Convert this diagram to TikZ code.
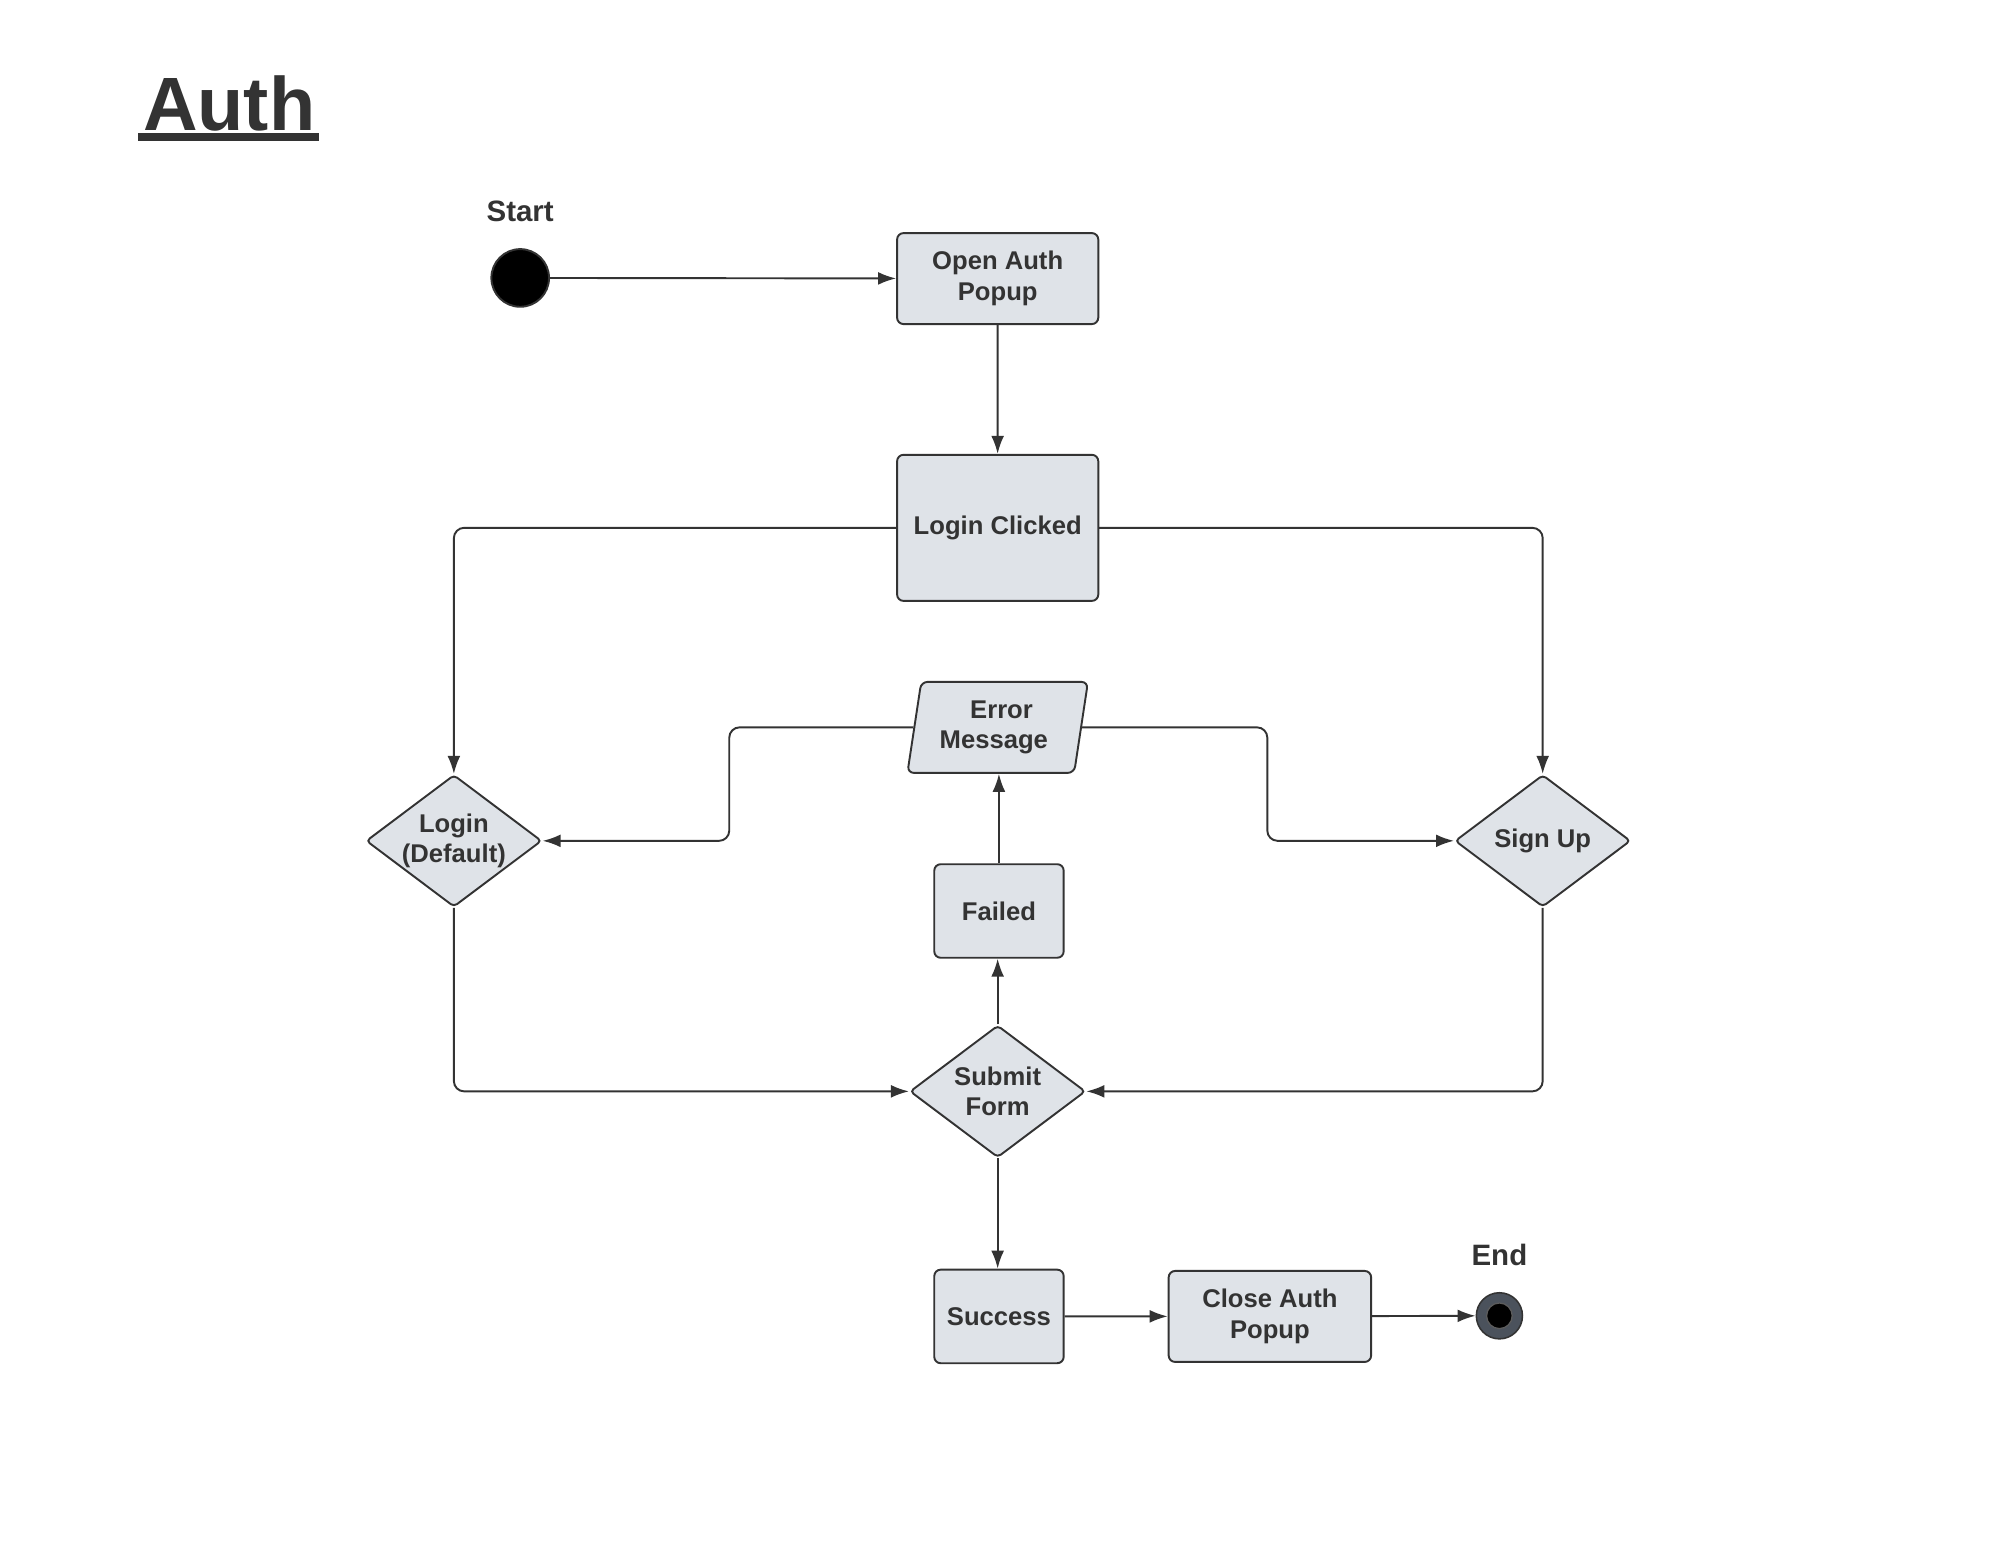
\documentclass[tikz,border=0pt]{standalone}
\usepackage{fontspec}
\setmainfont{Liberation Sans}
\usetikzlibrary{shapes.geometric,arrows.meta}
\definecolor{ink}{HTML}{333333}
\definecolor{boxfill}{HTML}{DFE3E8}
\definecolor{endgray}{HTML}{4B525C}
\begin{document}
\begin{tikzpicture}[x=1pt,y=-1pt,
  every node/.style={text=ink,font=\fontsize{20}{24}\selectfont\bfseries,align=center},
  box/.style={draw=ink,fill=boxfill,line width=1.5pt,rounded corners=5pt,inner sep=0pt},
  dia/.style={diamond,draw=ink,fill=boxfill,line width=1.5pt,rounded corners=3pt,inner sep=0pt,minimum width=137pt,minimum height=103pt},
  lbl/.style={font=\fontsize{23}{27}\selectfont\bfseries},
  conn/.style={draw=ink,line width=1.5pt,rounded corners=8pt,-{Latex[length=14pt,width=10pt]}},
]
\useasboundingbox[fill=white] (0,0) rectangle (1560,1206);

\begin{scope}[scale=0.995]
% title
\node[anchor=base west,inner sep=0pt,font=\fontsize{59}{70}\selectfont\bfseries] (title) at (112,102.5) {Auth};
\fill[ink] (108.5,104.5) rectangle (250,110.5);

% start / end
\node[lbl] (startlbl) at (408,166) {Start};
\node[circle,fill=black,draw=ink,line width=1.5pt,minimum size=45pt,inner sep=0pt] (start) at (408,218) {};
\node[lbl] (endlbl) at (1176,984) {End};
\node[circle,fill=endgray,draw=ink,line width=1.2pt,minimum size=36pt,inner sep=0pt] (end) at (1176,1032) {};
\node[circle,fill=black,draw=ink!80,line width=1pt,minimum size=20pt,inner sep=0pt] (endin) at (1176,1032) {};

% boxes
\node[box,minimum width=157pt,minimum height=71pt] (open) at (782.5,218.5) {Open Auth\\Popup};
\node[box,minimum width=157pt,minimum height=114pt] (login) at (782.5,414) {Login Clicked};
\node[trapezium,trapezium left angle=79,trapezium right angle=101,trapezium stretches=true,
      draw=ink,fill=boxfill,line width=1.5pt,rounded corners=5pt,inner sep=0pt,
      minimum width=141pt,minimum height=71pt] (err) at (782.5,570.5) {\hspace*{6pt}Error\\Message\hspace*{6pt}};
\node[dia,label={center:Login\\(Default)}] (ldef) at (356,659.5) {};
\node[dia,label={center:Sign Up}] (signup) at (1210,659.5) {};
\node[box,minimum width=101pt,minimum height=73pt] (failed) at (783.5,714.5) {Failed};
\node[dia,label={center:Submit\\Form}] (submit) at (782.5,856) {};
\node[box,minimum width=101pt,minimum height=73pt] (success) at (783.5,1032.5) {Success};
\node[box,minimum width=158pt,minimum height=71pt] (close) at (996,1032.5) {Close Auth\\Popup};

% elbows
\coordinate (elbowL) at (572,615);
\coordinate (elbowR) at (994,615);

% connectors
\draw[conn] (start) -- (open);
\draw[conn] (open) -- (login);
\draw[conn] (login.west) -| (ldef.north);
\draw[conn] (login.east) -| (signup.north);
\draw[conn] (err.west) -| (elbowL) |- (ldef.east);
\draw[conn] (err.east) -| (elbowR) |- (signup.west);
\draw[conn] (failed.north) -- (failed.north |- err.south);
\draw[conn] (submit.north) -- (submit.north |- failed.south);
\draw[conn] (ldef.south) |- (submit.west);
\draw[conn] (signup.south) |- (submit.east);
\draw[conn] (submit.south) -- (submit.south |- success.north);
\draw[conn] (success) -- (close);
\draw[conn] (close) -- (end);
\end{scope}
\end{tikzpicture}
\end{document}
